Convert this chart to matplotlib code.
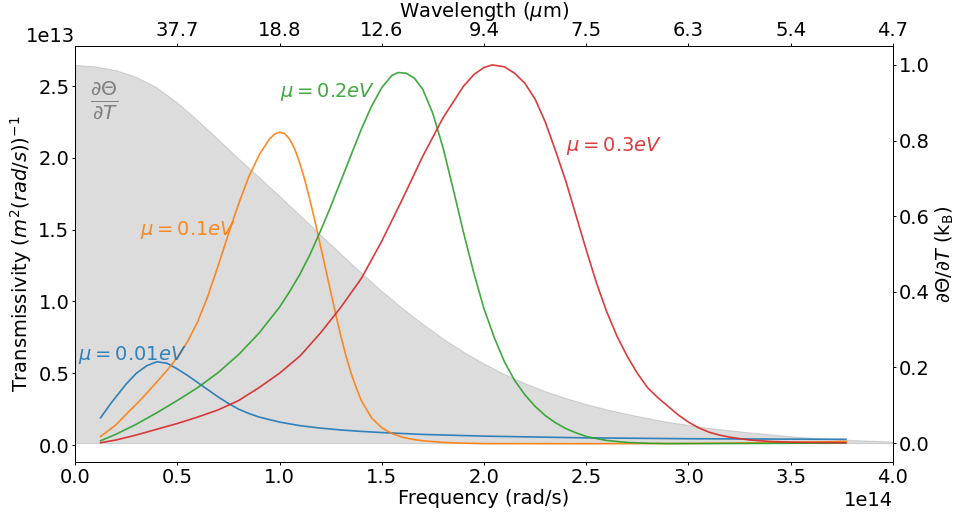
import matplotlib
matplotlib.use("Agg")
import matplotlib.pyplot as plt
import numpy as np

# transmissivity curves: frequency in 1e14 rad/s, value in 1e13 (m^2 rad/s)^-1
freq_001 = [0.125, 0.15, 0.175, 0.2, 0.25, 0.3, 0.35, 0.4, 0.45, 0.5, 0.55, 0.6, 0.65, 0.7, 0.75,
            0.8, 0.85, 0.9, 1.0, 1.1, 1.2, 1.3, 1.4, 1.5, 1.7, 2.0, 2.5, 3.0, 3.5, 3.77]
trans_001 = [0.19, 0.24, 0.29, 0.335, 0.425, 0.5, 0.552, 0.58, 0.57, 0.53, 0.485, 0.435, 0.385, 0.335, 0.29,
             0.25, 0.22, 0.195, 0.16, 0.135, 0.118, 0.105, 0.095, 0.087, 0.074, 0.062, 0.05, 0.044, 0.041, 0.04]

freq_01 = [0.125, 0.2, 0.25, 0.3, 0.35, 0.4, 0.45, 0.5, 0.55, 0.6, 0.65, 0.7, 0.75, 0.8, 0.85,
           0.9, 0.95, 0.975, 1.0, 1.025, 1.05, 1.075, 1.1, 1.125, 1.15, 1.175, 1.2, 1.225, 1.25, 1.275,
           1.3, 1.325, 1.35, 1.375, 1.4, 1.45, 1.5, 1.55, 1.6, 1.65, 1.7, 1.8, 1.9, 2.0, 2.5,
           3.0, 3.3, 3.6, 3.77]
trans_01 = [0.06, 0.14, 0.215, 0.285, 0.36, 0.44, 0.52, 0.61, 0.72, 0.86, 1.04, 1.25, 1.47, 1.68, 1.87,
            2.02, 2.13, 2.165, 2.18, 2.17, 2.13, 2.06, 1.96, 1.84, 1.70, 1.55, 1.39, 1.23, 1.07, 0.91,
            0.76, 0.62, 0.50, 0.40, 0.31, 0.19, 0.12, 0.08, 0.055, 0.04, 0.03, 0.018, 0.013, 0.01, 0.009,
            0.011, 0.015, 0.02, 0.025]

freq_02 = [0.125, 0.2, 0.3, 0.4, 0.5, 0.6, 0.7, 0.8, 0.9, 1.0, 1.05, 1.1, 1.15, 1.2, 1.25,
           1.3, 1.35, 1.4, 1.45, 1.5, 1.55, 1.58, 1.62, 1.66, 1.7, 1.75, 1.8, 1.85, 1.9, 1.95,
           2.0, 2.05, 2.1, 2.15, 2.2, 2.25, 2.3, 2.35, 2.4, 2.45, 2.5, 2.55, 2.6, 2.7, 2.8,
           2.9, 3.0, 3.3, 3.6, 3.77]
trans_02 = [0.03, 0.075, 0.145, 0.225, 0.31, 0.40, 0.505, 0.63, 0.78, 0.96, 1.07, 1.19, 1.33, 1.49, 1.66,
            1.84, 2.02, 2.2, 2.36, 2.49, 2.575, 2.595, 2.59, 2.555, 2.48, 2.31, 2.07, 1.78, 1.48, 1.2,
            0.95, 0.75, 0.58, 0.45, 0.35, 0.27, 0.205, 0.155, 0.115, 0.085, 0.06, 0.045, 0.032, 0.018, 0.012,
            0.01, 0.01, 0.011, 0.013, 0.014]

freq_03 = [0.125, 0.2, 0.3, 0.4, 0.5, 0.6, 0.7, 0.8, 0.9, 1.0, 1.1, 1.2, 1.3, 1.4, 1.5,
           1.6, 1.7, 1.8, 1.9, 1.95, 2.0, 2.04, 2.1, 2.15, 2.2, 2.25, 2.3, 2.35, 2.4, 2.45,
           2.5, 2.55, 2.6, 2.65, 2.7, 2.75, 2.8, 2.85, 2.9, 2.95, 3.0, 3.05, 3.1, 3.15, 3.2,
           3.3, 3.4, 3.5, 3.6, 3.77]
trans_03 = [0.016, 0.035, 0.07, 0.11, 0.15, 0.195, 0.245, 0.31, 0.40, 0.50, 0.62, 0.78, 0.96, 1.16, 1.42,
            1.71, 2.01, 2.28, 2.50, 2.58, 2.63, 2.648, 2.635, 2.59, 2.52, 2.41, 2.25, 2.05, 1.84, 1.60,
            1.36, 1.13, 0.93, 0.76, 0.62, 0.50, 0.40, 0.33, 0.27, 0.21, 0.16, 0.12, 0.09, 0.07, 0.055,
            0.035, 0.025, 0.02, 0.018, 0.016]

# dTheta/dT in units of k_B (shaded, right axis)
freq_theta = [0.0, 0.1, 0.2, 0.3, 0.4, 0.5, 0.6, 0.7, 0.8, 0.9, 1.0, 1.1, 1.2, 1.3, 1.4,
              1.5, 1.6, 1.7, 1.8, 1.9, 2.0, 2.1, 2.2, 2.3, 2.4, 2.5, 2.6, 2.7, 2.8, 2.9,
              3.0, 3.1, 3.2, 3.3, 3.4, 3.5, 3.6, 3.7, 3.8, 3.9, 4.0]
dtheta_dT = [1.0, 0.996, 0.986, 0.968, 0.94, 0.90, 0.853, 0.803, 0.752, 0.703, 0.653, 0.602, 0.551, 0.50, 0.45,
             0.402, 0.357, 0.315, 0.276, 0.241, 0.21, 0.182, 0.158, 0.137, 0.119, 0.103, 0.089, 0.077, 0.066, 0.056,
             0.048, 0.04, 0.034, 0.028, 0.023, 0.018, 0.014, 0.011, 0.008, 0.006, 0.004]

freq_ticks = [0.5, 1.0, 1.5, 2.0, 2.5, 3.0, 3.5, 4.0]
wavelength_labels = ['37.7', '18.8', '12.6', '9.4', '7.5', '6.3', '5.4', '4.7']

series = [
    (freq_001, trans_001, 'C0', r'$\mu=0.01eV$', (0.015, 0.63)),
    (freq_01, trans_01, 'C1', r'$\mu=0.1eV$', (0.32, 1.50)),
    (freq_02, trans_02, 'C2', r'$\mu=0.2eV$', (1.0, 2.46)),
    (freq_03, trans_03, 'C3', r'$\mu=0.3eV$', (2.40, 2.08)),
]

plt.rcParams['font.size'] = 14
plt.rcParams['axes.linewidth'] = 0.7

fig, ax = plt.subplots(figsize=(9.56, 5.16), dpi=100)
fig.subplots_adjust(left=0.0785, right=0.934, bottom=0.1047, top=0.9109)

# shaded dTheta/dT on the right axis
ax_r = ax.twinx()
ax_r.fill_between(np.array(freq_theta) * 1e14, 0, dtheta_dT, color='gray', alpha=0.27, lw=0.8)
ax_r.set_ylim(-0.05, 1.05)
ax_r.set_ylabel(r'$\partial\Theta/\partial T$ ($\mathrm{k_B}$)', labelpad=3)

ax.set_zorder(ax_r.get_zorder() + 1)
ax.patch.set_visible(False)

for fr, vals, col, lab, pos in series:
    ax.plot(np.array(fr) * 1e14, np.array(vals) * 1e13, color=col, lw=1.2, alpha=0.9)
    ax.text(pos[0] * 1e14, pos[1] * 1e13, lab, color=col, alpha=0.9, fontsize=14, va='center')

ax.text(0.075e14, 2.40e13, r'$\frac{\partial\Theta}{\partial T}$', color='gray',
        fontsize=21, va='center')

ax.set_xlim(0, 4e14)
ax.set_ylim(-0.118e13, 2.78e13)
ax.set_xlabel('Frequency (rad/s)', labelpad=2)
ax.set_ylabel(r'Transmissivity $(m^2(rad/s))^{-1}$', labelpad=3)
ax.yaxis.get_offset_text().set_ha('right')

# wavelength on top
ax_t = ax.twiny()
ax_t.set_xlim(ax.get_xlim())
ax_t.set_xticks(np.array(freq_ticks) * 1e14)
ax_t.set_xticklabels(wavelength_labels)
ax_t.set_xlabel(r'Wavelength ($\mu$m)', labelpad=3)

for a in (ax, ax_r, ax_t):
    a.tick_params(length=2.5, width=0.7, pad=1.5)

fig.savefig('out.png', dpi=100)
